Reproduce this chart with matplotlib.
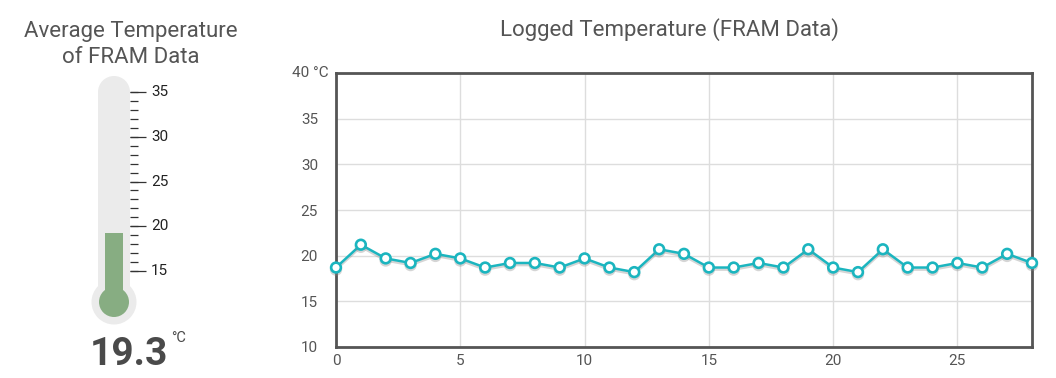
import matplotlib
matplotlib.use("Agg")
import matplotlib.pyplot as plt
import matplotlib.patheffects as pe
from matplotlib.patches import Rectangle, Circle
import numpy as np

# ---- data ----
samples = list(range(29))
temps = [18.7, 21.2, 19.7, 19.2, 20.2, 19.7, 18.7, 19.2, 19.2, 18.7,
         19.7, 18.7, 18.2, 20.7, 20.2, 18.7, 18.7, 19.2, 18.7, 20.7,
         18.7, 18.2, 20.7, 18.7, 18.7, 19.2, 18.7, 20.2, 19.2]
y_ticks = [10, 15, 20, 25, 30, 35, 40]
y_tick_labels = ["10", "15", "20", "25", "30", "35", ""]
x_ticks = [0, 5, 10, 15, 20, 25]
therm_major = [15, 20, 25, 30, 35]
therm_minor = list(range(15, 36))
avg_temp = round(float(np.mean(temps)), 1)

plt.rcParams['font.family'] = ['Roboto', 'DejaVu Sans']
TXT = '#555555'
W, H = 1056, 378
fig = plt.figure(figsize=(W / 100, H / 100), dpi=100)
fig.patch.set_facecolor('white')

def box(l, t, r, b):
    return [l / W, 1 - b / H, (r - l) / W, (b - t) / H]

# ---- titles ----
fig.text(131 / W, 1 - 37 / H, "Average Temperature", ha='center', va='baseline',
         fontsize=16, color=TXT)
fig.text(131 / W, 1 - 63 / H, "of FRAM Data", ha='center', va='baseline',
         fontsize=16, color=TXT)
fig.text(669 / W, 1 - 36 / H, "Logged Temperature (FRAM Data)", ha='center',
         va='baseline', fontsize=16, color=TXT)

# ---- thermometer ----
s = 8.95  # px per degree
tax = fig.add_axes(box(60, 60, 200, 330))
tax.set_ylim(15 - (330 - 271) / s, 35 + (92 - 60) / s)
tax.set_xlim(0, 140 / s)
tax.axis('off')
cx = 54 / s
half = 16 / s
bulb_c = 15 - 31 / s
gray = '#ebebeb'
green = '#87ad82'
tax.add_patch(Rectangle((cx - half, bulb_c), 2 * half, 35 - bulb_c,
                        facecolor=gray, edgecolor='none'))
tax.add_patch(Circle((cx, 35), half, facecolor=gray, edgecolor='none'))
tax.add_patch(Circle((cx, bulb_c), 22.5 / s, facecolor=gray, edgecolor='none'))
tax.add_patch(Circle((cx, bulb_c), 15 / s, facecolor=green, edgecolor='none'))
tax.add_patch(Rectangle((cx - 9 / s, bulb_c), 18 / s, avg_temp - bulb_c,
                        facecolor=green, edgecolor='none'))
x0 = 70 / s
tax.hlines(therm_minor, x0, 78 / s, color='#333333', lw=0.9)
tax.hlines(therm_major, x0, 86 / s, color='#333333', lw=0.9)
for t in therm_major:
    tax.text(91 / s, t, str(t), ha='left', va='center', fontsize=11,
             color='#222222')

fig.text(129 / W, 1 - 365 / H, f"{avg_temp}", ha='center', va='baseline',
         fontsize=28, fontweight='bold', color='#4a4a4a')
fig.text(171 / W, 1 - 331 / H, "°C", ha='left', va='top', fontsize=10.5,
         color='#4a4a4a')

# ---- line chart ----
ax = fig.add_axes(box(336, 73, 1032, 347))
ax.set_xlim(0, 28)
ax.set_ylim(10, 40)
ax.set_yticks(y_ticks)
ax.set_yticklabels(y_tick_labels)
ax.set_xticks(x_ticks)
ax.tick_params(length=0, labelsize=11, labelcolor=TXT)
ax.tick_params(axis='y', pad=13)
ax.tick_params(axis='x', pad=5)
ax.grid(True, color='#dddddd', lw=1)
ax.set_axisbelow(True)
for sp in ax.spines.values():
    sp.set_color('#555555')
    sp.set_linewidth(2)
ax.annotate("40 °C", xy=(0, 40), xycoords='data', xytext=(-5, 0),
            textcoords='offset points', ha='right', va='center',
            fontsize=11, color=TXT, annotation_clip=False)
ax.plot(samples, temps, color='#1bb5bf', lw=1.8, marker='o', markersize=7,
        markerfacecolor='white', markeredgecolor='#1bb5bf', markeredgewidth=1.9,
        clip_on=False, zorder=5,
        path_effects=[pe.SimpleLineShadow(offset=(0, -1.5), shadow_color='#888888', alpha=0.35),
                      pe.Normal()])

fig.savefig('out.png', dpi=100, facecolor='white')
